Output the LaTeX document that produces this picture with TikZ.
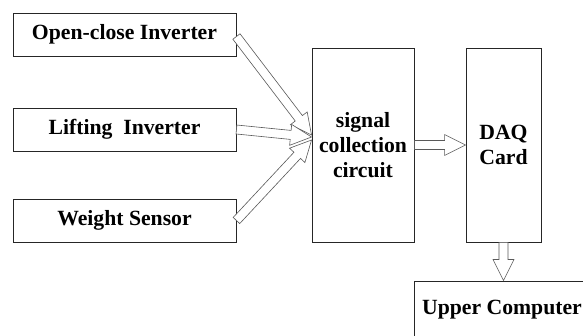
\documentclass[tikz,border=0pt]{standalone}
\usepackage{fontspec}
\setmainfont{Liberation Serif}
\usetikzlibrary{calc}

\tikzset{
  block/.style={draw=black!85, line width=0.9pt, fill=white, align=center, inner sep=0pt,
    font=\fontsize{21.7}{25}\selectfont\bfseries},
  hollow/.style={draw=black!65, line width=0.6pt, fill=white, line join=miter},
}

% hollow block arrow from #1 to #2
\newcommand{\fatarrow}[2]{%
  \path (#1) coordinate (fa-s) (#2) coordinate (fa-t);
  \coordinate (fa-b) at ($(fa-t)!21pt!(fa-s)$);
  \draw[hollow] ($(fa-s)!4.5pt!90:(fa-t)$) -- ($(fa-b)!4.5pt!90:(fa-t)$)
    -- ($(fa-b)!10.5pt!90:(fa-t)$) -- (fa-t) -- ($(fa-b)!10.5pt!-90:(fa-t)$)
    -- ($(fa-b)!4.5pt!-90:(fa-t)$) -- ($(fa-s)!4.5pt!-90:(fa-t)$) -- cycle;
}

\begin{document}
\begin{tikzpicture}[x=1pt, y=-1pt]
  \useasboundingbox (0,0) rectangle (583,336);

  % inputs
  \node[block, minimum width=223pt, minimum height=43pt] (open) at (124.5,34.5) {Open-close Inverter};
  \node[block, minimum width=223pt, minimum height=43pt] (lift) at (124.5,129.5) {Lifting~ Inverter};
  \node[block, minimum width=223pt, minimum height=43pt] (weight) at (124.5,220.5) {Weight Sensor};

  % processing chain
  \node[block, minimum width=102pt, minimum height=194pt] (signal) at (363,145) {signal\\collection\\circuit};
  \node[block, minimum width=75pt, minimum height=194pt] (daq) at (503.5,145) {DAQ\\Card};
  \node[block, minimum width=176pt, minimum height=58pt] (upper) at (502,310) {Upper Computer};

  \fatarrow{$(open.east)+(0,2)$}{$(signal.west)+(0,-10)$}
  \fatarrow{lift.east}{$(signal.west)+(0,-8)$}
  \fatarrow{weight.east}{$(signal.west)+(0,-5)$}
  \fatarrow{signal.east}{daq.west}
  \fatarrow{daq.south}{daq.south |- upper.north}
\end{tikzpicture}
\end{document}
